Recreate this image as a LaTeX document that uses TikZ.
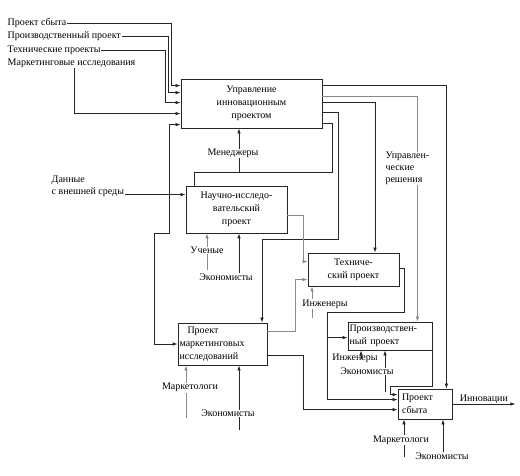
\documentclass[tikz,border=0pt]{standalone}
\usepackage{fontspec}
\setmainfont{Liberation Serif}
\usepackage{tikz}
\usetikzlibrary{positioning, arrows.meta}
\definecolor{lineink}{HTML}{262626}
\definecolor{softink}{HTML}{8A8A8A}

\tikzset{
  >={Latex[length=5pt,width=3.5pt]},
  funcbox/.style={draw=lineink, fill=white, line width=0.8pt, inner sep=1.5pt,
    font=\fontsize{10}{13}\selectfont},
  arrowlbl/.style={inner sep=0.5pt, font=\fontsize{10}{12}\selectfont},
  linkline/.style={draw=lineink, line width=0.7pt, ->},
  softline/.style={linkline, draw=softink},
}

\begin{document}
\begin{tikzpicture}[x=1pt, y=-1pt]
  \useasboundingbox (0,0) rectangle (520,475);

  % function boxes
  \node[funcbox, minimum width=141pt, minimum height=49pt, align=center] (upr)
    at (251.5,103.5) {Управление\\инновационным\\проектом};
  \node[funcbox, minimum width=101pt, minimum height=47pt, align=center] (nir)
    at (236.5,209.5) {Научно-исследо-\\вательский\\проект};
  \node[funcbox, minimum width=91pt, minimum height=33pt, align=center] (tech)
    at (353.5,269.5) {Техниче-\\ский проект};
  \node[funcbox, text width=86pt, minimum height=42pt, align=left] (mark)
    at (222.5,344) {\hspace*{8pt}Проект\\маркетинговых\\исследований};
  \node[funcbox, text width=81pt, minimum height=28pt, align=left] (proizv)
    at (390,336) {Производствен-\\ный проект};
  \node[funcbox, text width=46pt, inner xsep=4pt, minimum height=30pt, align=left] (sbyt)
    at (425,404) {Проект\\сбыта};

  % inputs on the left
  \node[arrowlbl, anchor=west] (l1) at (7,23) {Проект сбыта};
  \node[arrowlbl, anchor=west] (l2) at (7,36) {Производственный проект};
  \node[arrowlbl, anchor=west] (l3) at (7,50) {Технические проекты};
  \node[arrowlbl, anchor=west] (l4) at (7,63) {Маркетинговые исследования};
  \node[arrowlbl, align=left, anchor=north west] (dan) at (51,175) {Данные\\с внешней среды};

  \draw[linkline] (l1.east) -| ([xshift=-9pt,yshift=-7pt]upr.north west) -- ([yshift=-7pt]upr.north west);
  \draw[linkline] (l2.east) -| ([xshift=-12pt,yshift=-14pt]upr.north west) -- ([yshift=-14pt]upr.north west);
  \draw[linkline] (l3.east) -| ([xshift=-15pt,yshift=-24pt]upr.north west) -- ([yshift=-24pt]upr.north west);
  \draw[linkline] ([xshift=67pt]l4.south west) |- ([yshift=-35pt]upr.north west);
  \draw[linkline, <->] ([yshift=-46pt]upr.north west) -| ([xshift=-16pt]nir.south west)
    -| ([xshift=-23pt]mark.west) -- (mark.west);

  \coordinate (din) at ([yshift=-9pt]nir.north west);
  \draw[linkline] (dan.east |- din) -- (din);

  % outputs of the management box
  \draw[linkline] ([yshift=-7pt]upr.north east) -| ([xshift=-6pt]sbyt.north east);
  \draw[softline] ([yshift=-18pt]upr.north east) -| ([xshift=-15pt]proizv.north east)
    node[arrowlbl, fill=white, align=left, pos=0.66, xshift=-10pt] {Управлен-\\ческие\\решения};
  \draw[linkline] ([yshift=-24pt]upr.north east) -| ([xshift=21.5pt]tech.north);
  \draw[linkline] ([yshift=-34pt]upr.north east) -- ++(16,0) -- ++(0,127) -| ([xshift=39.5pt]mark.north);
  \draw[linkline, -] ([yshift=-45pt]upr.north east) -- ++(10,0) -- ++(0,49) -| ([xshift=9pt]nir.north west);
  \draw[linkline] ([xshift=-12.5pt,yshift=-45pt]upr.south) -- ([xshift=-12.5pt]upr.south)
    node[arrowlbl, fill=white, pos=0.44, xshift=-6pt] {Менеджеры};

  % research project
  \draw[softline] ([yshift=-30pt]nir.north east) -| ([xshift=-4pt,yshift=-9pt]tech.north west)
    -- ([yshift=-9pt]tech.north west);
  \draw[softline] ([xshift=-29.5pt,yshift=-37pt]nir.south) -- ([xshift=-29.5pt]nir.south)
    node[arrowlbl, fill=white, pos=0.54] {Ученые};
  \draw[linkline] ([xshift=2.5pt,yshift=-40pt]nir.south)
    node[arrowlbl, below, xshift=-13pt] {Экономисты} -- ([xshift=2.5pt]nir.south);

  % technical project
  \draw[softline] ([xshift=-41.5pt,yshift=-32pt]tech.south) -- ([xshift=-41.5pt]tech.south)
    node[arrowlbl, fill=white, pos=0.44, xshift=13pt] {Инженеры};
  \draw[linkline] ([yshift=-16pt]tech.north east) -- ++(5,0) -- ++(0,44) -- ++(-77,0)
    coordinate (tsplit) |- ([yshift=-11pt]sbyt.north west);
  \coordinate (pin) at ([yshift=-16pt]proizv.north west);
  \draw[linkline] (tsplit |- pin) -- (pin);

  % marketing research
  \draw[softline] ([yshift=-9pt]mark.north east) -| ([xshift=-12pt,yshift=-27pt]tech.north west)
    -- ([yshift=-27pt]tech.north west);
  \draw[linkline] ([yshift=-33pt]mark.north east) -| ([xshift=-94pt,yshift=-21pt]sbyt.north west)
    -- ([yshift=-21pt]sbyt.north west);
  \draw[softline] ([xshift=-36.5pt,yshift=-53pt]mark.south) -- ([xshift=-36.5pt]mark.south)
    node[arrowlbl, fill=white, pos=0.58, xshift=4pt] {Маркетологи};
  \draw[linkline] ([xshift=16.5pt,yshift=-65pt]mark.south) -- ([xshift=16.5pt]mark.south)
    node[arrowlbl, fill=white, pos=0.26, xshift=-11pt] {Экономисты};

  % production project
  \draw[linkline] ([xshift=-29pt,yshift=-9pt]proizv.south)
    node[arrowlbl, xshift=-6pt, yshift=1pt] {Инженеры} -- ([xshift=-29pt]proizv.south);
  \draw[linkline] ([xshift=-5pt,yshift=-42pt]proizv.south) -- ([xshift=-5pt]proizv.south)
    node[arrowlbl, fill=white, pos=0.5, xshift=-18pt] {Экономисты};
  \draw[linkline] (proizv.south east) -- ++(0,36) -| ([xshift=-7pt,yshift=-6pt]sbyt.north west)
    -- ([yshift=-6pt]sbyt.north west);

  % sales project
  \draw[linkline] ([xshift=-21pt,yshift=-38pt]sbyt.south) -- ([xshift=-21pt]sbyt.south)
    node[arrowlbl, fill=white, pos=0.45, xshift=-3pt] {Маркетологи};
  \draw[linkline] ([xshift=18pt,yshift=-33pt]sbyt.south)
    node[arrowlbl, below, xshift=-1pt] {Экономисты} -- ([xshift=18pt]sbyt.south);
  \coordinate (innout) at ([xshift=63pt]sbyt.east);
  \draw[linkline] (sbyt.east) -- (innout) node[arrowlbl, above, pos=0.5] {Инновации};
\end{tikzpicture}
\end{document}
